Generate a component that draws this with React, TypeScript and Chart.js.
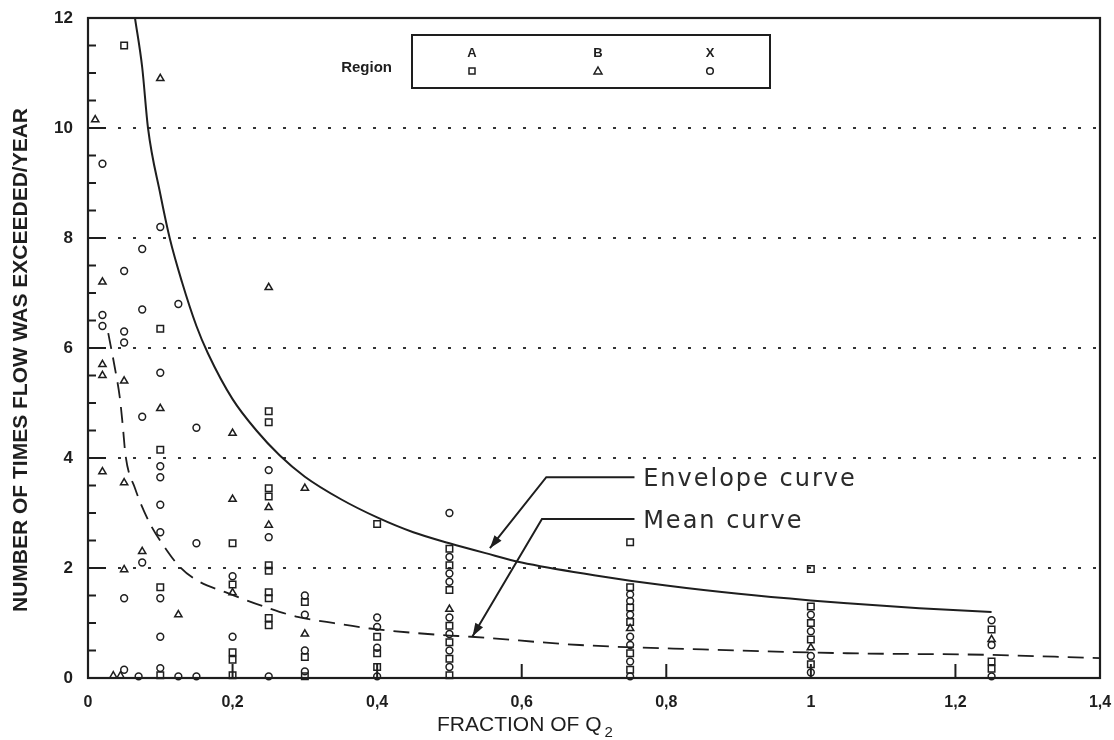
import { useEffect, useRef } from "react";
import { Chart, registerables } from "chart.js";

Chart.register(...registerables);

// ---- axis ticks ----
const xTickValues = [0, 0.2, 0.4, 0.6, 0.8, 1.0, 1.2, 1.4];
const xTickLabels = ["0", "0,2", "0,4", "0,6", "0,8", "1", "1,2", "1,4"];
const yTickValues = [0, 2, 4, 6, 8, 10, 12];
const yTickLabels = ["0", "2", "4", "6", "8", "10", "12"];
const yMinorStep = 0.5;

// ---- titles / labels ----
const yTitle = "NUMBER OF TIMES FLOW WAS EXCEEDED/YEAR";
const xTitleMain = "FRACTION OF Q";
const xTitleSub = "2";
const legendTitle = "Region";
const legendRegions = ["A", "B", "X"];

// ---- observations: Region A (squares) ----
const regionA: [number, number][] = [
  [0.05, 11.5], [0.1, 6.35], [0.1, 4.15], [0.1, 1.65], [0.1, 0.05],
  [0.2, 2.45], [0.2, 1.7], [0.2, 0.47], [0.2, 0.33], [0.2, 0.05],
  [0.25, 4.85], [0.25, 4.65], [0.25, 3.45], [0.25, 3.3], [0.25, 2.05], [0.25, 1.95],
  [0.25, 1.56], [0.25, 1.45], [0.25, 1.09], [0.25, 0.96],
  [0.3, 1.38], [0.3, 0.38], [0.3, 0.03],
  [0.4, 2.8], [0.4, 0.75], [0.4, 0.45], [0.4, 0.2],
  [0.5, 2.35], [0.5, 2.05], [0.5, 1.6], [0.5, 0.95], [0.5, 0.65], [0.5, 0.35], [0.5, 0.05],
  [0.75, 2.47], [0.75, 1.65], [0.75, 1.28], [0.75, 1.02], [0.75, 0.45], [0.75, 0.15],
  [1.0, 1.98], [1.0, 1.3], [1.0, 1.0], [1.0, 0.7], [1.0, 0.25],
  [1.25, 0.88], [1.25, 0.3], [1.25, 0.17],
];

// ---- observations: Region B (triangles) ----
const regionB: [number, number][] = [
  [0.01, 10.15], [0.1, 10.9], [0.02, 7.2], [0.25, 7.1], [0.02, 5.7], [0.02, 5.5],
  [0.05, 5.4], [0.1, 4.9], [0.2, 4.45], [0.02, 3.75], [0.05, 3.55], [0.3, 3.45],
  [0.2, 3.25], [0.25, 3.1], [0.25, 2.78], [0.075, 2.3], [0.05, 1.97], [0.2, 1.55],
  [0.125, 1.15], [0.3, 0.8], [0.035, 0.04], [0.045, 0.04], [0.5, 1.25], [0.75, 0.9],
  [1.0, 0.55], [1.25, 0.7],
];

// ---- observations: Region X (circles) ----
const regionX: [number, number][] = [
  [0.02, 9.35], [0.1, 8.2], [0.075, 7.8], [0.05, 7.4], [0.075, 6.7], [0.125, 6.8],
  [0.02, 6.6], [0.02, 6.4], [0.05, 6.3], [0.05, 6.1], [0.1, 5.55], [0.075, 4.75],
  [0.15, 4.55], [0.1, 3.85], [0.1, 3.65], [0.25, 3.78], [0.1, 3.15], [0.1, 2.65],
  [0.15, 2.45], [0.25, 2.56], [0.075, 2.1], [0.5, 3.0], [0.05, 1.45], [0.1, 1.45],
  [0.1, 0.75], [0.2, 1.85], [0.2, 0.75], [0.05, 0.15], [0.1, 0.18], [0.07, 0.03],
  [0.125, 0.03], [0.15, 0.03], [0.25, 0.03],
  [0.3, 1.5], [0.3, 1.15], [0.3, 0.5], [0.3, 0.12],
  [0.4, 1.1], [0.4, 0.93], [0.4, 0.55], [0.4, 0.03],
  [0.5, 2.2], [0.5, 1.9], [0.5, 1.75], [0.5, 1.1], [0.5, 0.8], [0.5, 0.5], [0.5, 0.2],
  [0.75, 1.52], [0.75, 1.4], [0.75, 1.15], [0.75, 0.75], [0.75, 0.6], [0.75, 0.3], [0.75, 0.03],
  [1.0, 1.15], [1.0, 0.85], [1.0, 0.4], [1.0, 0.1],
  [1.25, 1.05], [1.25, 0.6], [1.25, 0.03],
];

// ---- envelope curve ----
const envelopeX = [0.065, 0.075, 0.083, 0.1, 0.113, 0.13, 0.15, 0.166, 0.2, 0.233, 0.265, 0.3, 0.35, 0.4, 0.45, 0.5, 0.55, 0.6, 0.7, 0.8, 0.9, 1.0, 1.05, 1.15, 1.25];
const envelopeY = [12, 11.1, 10, 8.8, 8, 7.2, 6.4, 5.9, 5.07, 4.5, 4.05, 3.66, 3.25, 2.92, 2.65, 2.45, 2.27, 2.1, 1.87, 1.68, 1.53, 1.41, 1.36, 1.27, 1.2];

// ---- mean curve ----
const meanX = [0.028, 0.037, 0.044, 0.048, 0.052, 0.065, 0.086, 0.106, 0.127, 0.15, 0.19, 0.25, 0.29, 0.33, 0.39, 0.49, 0.53, 0.68, 0.85, 1.05, 1.25, 1.4];
const meanY = [6.27, 5.65, 5.1, 4.6, 4.04, 3.45, 2.8, 2.38, 2.02, 1.78, 1.56, 1.27, 1.11, 1.02, 0.9, 0.78, 0.75, 0.6, 0.52, 0.45, 0.42, 0.36];

// ---- callouts (data coordinates) ----
const envelopeLabel = "Envelope curve";
const envelopeLeader: [number, number][] = [[0.756, 3.65], [0.634, 3.65], [0.556, 2.36]];
const envelopeLabelPos: [number, number] = [0.768, 3.5];
const meanLabel = "Mean curve";
const meanLeader: [number, number][] = [[0.756, 2.89], [0.628, 2.89], [0.532, 0.76]];
const meanLabelPos: [number, number] = [0.768, 2.73];

const INK = "#1e1e1e";

const toXY = (arr: [number, number][]) => arr.map(([x, y]) => ({ x, y }));
const zipXY = (xs: number[], ys: number[]) => xs.map((x, i) => ({ x, y: ys[i] }));

function drawArrowHead(ctx: CanvasRenderingContext2D, x1: number, y1: number, x2: number, y2: number) {
  const a = Math.atan2(y2 - y1, x2 - x1);
  const L = 13;
  const W = 4.5;
  ctx.beginPath();
  ctx.moveTo(x2, y2);
  ctx.lineTo(x2 - L * Math.cos(a) + W * Math.sin(a), y2 - L * Math.sin(a) - W * Math.cos(a));
  ctx.lineTo(x2 - L * Math.cos(a) - W * Math.sin(a), y2 - L * Math.sin(a) + W * Math.cos(a));
  ctx.closePath();
  ctx.fill();
}

const decorPlugin = {
  id: "decor",
  afterDraw(chart: any) {
    const ctx: CanvasRenderingContext2D = chart.ctx;
    const ca = chart.chartArea;
    const xs = chart.scales.x;
    const ys = chart.scales.y;
    ctx.save();
    ctx.strokeStyle = INK;
    ctx.fillStyle = INK;

    // frame
    ctx.lineWidth = 2.2;
    ctx.strokeRect(ca.left, ca.top, ca.right - ca.left, ca.bottom - ca.top);

    // inward y ticks (major + minor)
    ctx.lineWidth = 2;
    for (let v = ys.min; v <= ys.max + 1e-9; v += yMinorStep) {
      const py = ys.getPixelForValue(v);
      const major = Math.abs(v / 2 - Math.round(v / 2)) < 1e-6;
      if (v === ys.min || v === ys.max) continue;
      ctx.beginPath();
      ctx.moveTo(ca.left, py);
      ctx.lineTo(ca.left + (major ? 18 : 8), py);
      ctx.stroke();
    }
    // inward x ticks
    for (const v of xTickValues) {
      if (v === xs.min || v === xs.max) continue;
      const px = xs.getPixelForValue(v);
      ctx.beginPath();
      ctx.moveTo(px, ca.bottom);
      ctx.lineTo(px, ca.bottom - 14);
      ctx.stroke();
    }

    // y title
    ctx.save();
    ctx.translate(ca.left - 67, (ca.top + ca.bottom) / 2 + 12);
    ctx.rotate(-Math.PI / 2);
    ctx.font = "bold 21px 'Liberation Sans', Arial, sans-serif";
    ctx.textAlign = "center";
    ctx.textBaseline = "middle";
    ctx.fillText(yTitle, 0, 0);
    ctx.restore();

    // x title with subscript
    ctx.font = "21px 'Liberation Sans', Arial, sans-serif";
    ctx.textAlign = "left";
    ctx.textBaseline = "alphabetic";
    const tx = ca.left + 349;
    const ty = ca.bottom + 53;
    ctx.fillText(xTitleMain, tx, ty);
    const w = ctx.measureText(xTitleMain).width;
    ctx.font = "15px 'Liberation Sans', Arial, sans-serif";
    ctx.fillText(xTitleSub, tx + w + 3, ty + 6);

    // legend box
    const lx = ca.left + 324;
    const ly = ca.top + 17;
    const lw = 358;
    const lh = 53;
    ctx.lineWidth = 2;
    ctx.strokeRect(lx, ly, lw, lh);
    ctx.font = "bold 15px 'Liberation Sans', Arial, sans-serif";
    ctx.textAlign = "right";
    ctx.textBaseline = "middle";
    ctx.fillText(legendTitle, lx - 20, ly + 33);
    ctx.font = "bold 13px 'Liberation Sans', Arial, sans-serif";
    ctx.textAlign = "center";
    const cols = [lx + 60, lx + 186, lx + 298];
    legendRegions.forEach((r, i) => ctx.fillText(r, cols[i], ly + 18));
    ctx.lineWidth = 1.5;
    const sy = ly + 36;
    ctx.strokeRect(cols[0] - 3, sy - 3, 6, 6);
    ctx.beginPath();
    ctx.moveTo(cols[1], sy - 4);
    ctx.lineTo(cols[1] + 4, sy + 3);
    ctx.lineTo(cols[1] - 4, sy + 3);
    ctx.closePath();
    ctx.stroke();
    ctx.beginPath();
    ctx.arc(cols[2], sy, 3.3, 0, Math.PI * 2);
    ctx.stroke();

    // callouts
    const drawCallout = (path: [number, number][], label: string, pos: [number, number]) => {
      const pts = path.map(([x, y]) => [xs.getPixelForValue(x), ys.getPixelForValue(y)]);
      ctx.lineWidth = 2;
      ctx.beginPath();
      ctx.moveTo(pts[0][0], pts[0][1]);
      for (let i = 1; i < pts.length; i++) ctx.lineTo(pts[i][0], pts[i][1]);
      ctx.stroke();
      const n = pts.length;
      drawArrowHead(ctx, pts[n - 2][0], pts[n - 2][1], pts[n - 1][0], pts[n - 1][1]);
      ctx.save();
      ctx.fillStyle = "#2a2a2a";
      ctx.font = "24px 'DejaVu Sans', sans-serif";
      (ctx as any).letterSpacing = "2px";
      ctx.textAlign = "left";
      ctx.textBaseline = "alphabetic";
      ctx.fillText(label, xs.getPixelForValue(pos[0]), ys.getPixelForValue(pos[1]));
      ctx.restore();
    };
    drawCallout(envelopeLeader, envelopeLabel, envelopeLabelPos);
    drawCallout(meanLeader, meanLabel, meanLabelPos);

    ctx.restore();
  },
};

export default function App() {
  const ref = useRef<HTMLCanvasElement | null>(null);

  useEffect(() => {
    if (!ref.current) return;
    const markerBase = {
      showLine: false,
      borderColor: INK,
      backgroundColor: "rgba(0,0,0,0)",
      pointBorderWidth: 1.5,
      clip: false as any,
    };
    const chart = new Chart(ref.current, {
      type: "scatter",
      data: {
        datasets: [
          { ...markerBase, label: "A", data: toXY(regionA), pointStyle: "rect", pointRadius: 4.6 },
          { ...markerBase, label: "B", data: toXY(regionB), pointStyle: "triangle", pointRadius: 4.2 },
          { ...markerBase, label: "X", data: toXY(regionX), pointStyle: "circle", pointRadius: 3.4 },
          {
            label: "Envelope curve",
            data: zipXY(envelopeX, envelopeY),
            showLine: true,
            pointRadius: 0,
            borderColor: INK,
            borderWidth: 2,
            cubicInterpolationMode: "monotone",
          },
          {
            label: "Mean curve",
            data: zipXY(meanX, meanY),
            showLine: true,
            pointRadius: 0,
            borderColor: INK,
            borderWidth: 1.8,
            borderDash: [16, 9],
            cubicInterpolationMode: "monotone",
          },
        ],
      } as any,
      options: {
        animation: false,
        responsive: false,
        devicePixelRatio: 1,
        layout: { padding: { left: 0, right: 14, top: 18, bottom: 0 } },
        plugins: { legend: { display: false }, tooltip: { enabled: false } },
        scales: {
          x: {
            type: "linear",
            min: 0,
            max: 1.4,
            afterBuildTicks: (s: any) => {
              s.ticks = xTickValues.map((v) => ({ value: v }));
            },
            afterFit: (s: any) => {
              s.height = 62;
              s.paddingLeft = 0;
              s.paddingRight = 0;
            },
            ticks: {
              callback: (_v: any, i: number) => xTickLabels[i],
              font: { family: "'Liberation Sans', Arial, sans-serif", size: 16, weight: "bold" },
              color: INK,
              padding: 7,
              maxRotation: 0,
              autoSkip: false,
            },
            grid: { display: false },
            border: { display: false },
          },
          y: {
            type: "linear",
            min: 0,
            max: 12,
            afterBuildTicks: (s: any) => {
              s.ticks = yTickValues.map((v) => ({ value: v }));
            },
            afterFit: (s: any) => {
              s.width = 88;
              s.paddingTop = 0;
              s.paddingBottom = 0;
            },
            ticks: {
              callback: (_v: any, i: number) => yTickLabels[i],
              font: { family: "'Liberation Sans', Arial, sans-serif", size: 17, weight: "bold" },
              color: INK,
              padding: 15,
              autoSkip: false,
            },
            grid: {
              drawTicks: false,
              lineWidth: 2,
              color: (c: any) =>
                c.tick && (c.tick.value === 0 || c.tick.value === 12) ? "rgba(0,0,0,0)" : "#333",
            },
            border: { display: false, dash: [3, 12] },
          },
        },
      } as any,
      plugins: [decorPlugin],
    });
    return () => chart.destroy();
  }, []);

  return (
    <div style={{ position: "fixed", left: 0, top: 0, width: 1114, height: 740, background: "#fff" }}>
      <canvas ref={ref} width={1114} height={740} style={{ display: "block" }} />
    </div>
  );
}
